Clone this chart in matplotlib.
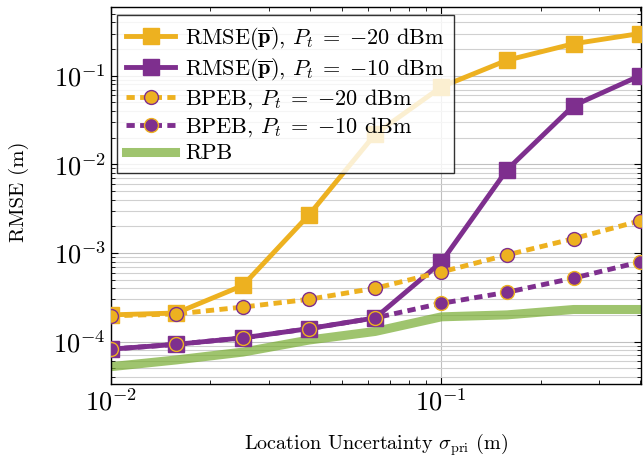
import numpy as np
import matplotlib
matplotlib.use('Agg')
import matplotlib.pyplot as plt

# Prior location uncertainty (m)
sigma_pri = [0.01, 0.0158, 0.0251, 0.0398, 0.0631, 0.1, 0.158, 0.251, 0.398]

rmse_m20 = [2.0e-4, 2.1e-4, 4.3e-4, 2.7e-3, 2.2e-2, 7.5e-2, 0.15, 0.23, 0.30]
rmse_m10 = [8.2e-5, 9.3e-5, 1.1e-4, 1.4e-4, 1.85e-4, 7.9e-4, 8.7e-3, 4.6e-2, 0.10]
bpeb_m20 = [1.95e-4, 2.05e-4, 2.45e-4, 3.0e-4, 4.0e-4, 6.1e-4, 9.5e-4, 1.45e-3, 2.3e-3]
bpeb_m10 = [8.2e-5, 9.3e-5, 1.1e-4, 1.4e-4, 1.85e-4, 2.7e-4, 3.6e-4, 5.2e-4, 7.9e-4]
rpb = [5.2e-5, 6.2e-5, 7.6e-5, 1.04e-4, 1.3e-4, 1.9e-4, 2.0e-4, 2.3e-4, 2.3e-4]

ORANGE = '#EDB120'
PURPLE = '#7E2F8E'
GREEN = '#77AC30'
DASH = (0, (1.7, 1.1))

plt.rcParams['font.family'] = 'serif'
plt.rcParams['font.serif'] = ['cmr10']
plt.rcParams['mathtext.fontset'] = 'cm'
plt.rcParams['axes.formatter.use_mathtext'] = True

fig = plt.figure(figsize=(6.44, 4.59), dpi=100)
ax = fig.add_axes([0.172, 0.163, 0.823, 0.822])

ax.plot(sigma_pri, rpb, color=GREEN, alpha=0.7, lw=6.5, label='RPB', zorder=2)
ax.plot(sigma_pri, rmse_m20, color=ORANGE, lw=3.5, marker='s', ms=11,
        label=r'RMSE$(\overline{\mathbf{p}})$, $P_t\;=\;{-}20$ dBm', zorder=3)
ax.plot(sigma_pri, rmse_m10, color=PURPLE, lw=3.5, marker='s', ms=11,
        label=r'RMSE$(\overline{\mathbf{p}})$, $P_t\;=\;{-}10$ dBm', zorder=3)
ax.plot(sigma_pri, bpeb_m20, color=ORANGE, lw=3.5, ls=DASH, marker='o', ms=10,
        mfc=ORANGE, mec=PURPLE, mew=1.0, label=r'BPEB, $P_t\;=\;{-}20$ dBm', zorder=4)
ax.plot(sigma_pri, bpeb_m10, color=PURPLE, lw=3.5, ls=DASH, marker='o', ms=10,
        mfc=PURPLE, mec=ORANGE, mew=1.0, label=r'BPEB, $P_t\;=\;{-}10$ dBm', zorder=4)

ax.set_xscale('log')
ax.set_yscale('log')
ax.set_xlim(0.01, 0.401)
ax.set_ylim(3.3e-5, 0.6)

ax.grid(True, which='major', axis='both', color='#c0c0c0', lw=0.8)
ax.grid(True, which='minor', axis='y', color='#d0d0d0', lw=0.8)
ax.set_axisbelow(True)
ax.tick_params(which='both', direction='in', top=True, right=True, labelsize=19)
ax.tick_params(which='major', length=5)
ax.tick_params(which='minor', length=3)
for sp in ax.spines.values():
    sp.set_linewidth(1.0)

ax.set_xlabel(r'Location Uncertainty $\sigma_{\mathrm{pri}}$ (m)', fontsize=14.5)
ax.xaxis.set_label_coords(0.5, -0.125)
ax.set_ylabel('RMSE (m)', fontsize=15)
ax.yaxis.set_label_coords(-0.155, 0.51)

handles, labels = ax.get_legend_handles_labels()
order = [1, 2, 3, 4, 0]
leg = ax.legend([handles[i] for i in order], [labels[i] for i in order],
                loc='upper left', bbox_to_anchor=(0.012, 0.978), fontsize=16,
                fancybox=False, framealpha=0.8, edgecolor='black',
                handlelength=2.2, borderaxespad=0.0, labelspacing=0.2,
                handletextpad=0.45, borderpad=0.42)
leg.get_frame().set_linewidth(1.0)

fig.savefig('out.png', dpi=100)
